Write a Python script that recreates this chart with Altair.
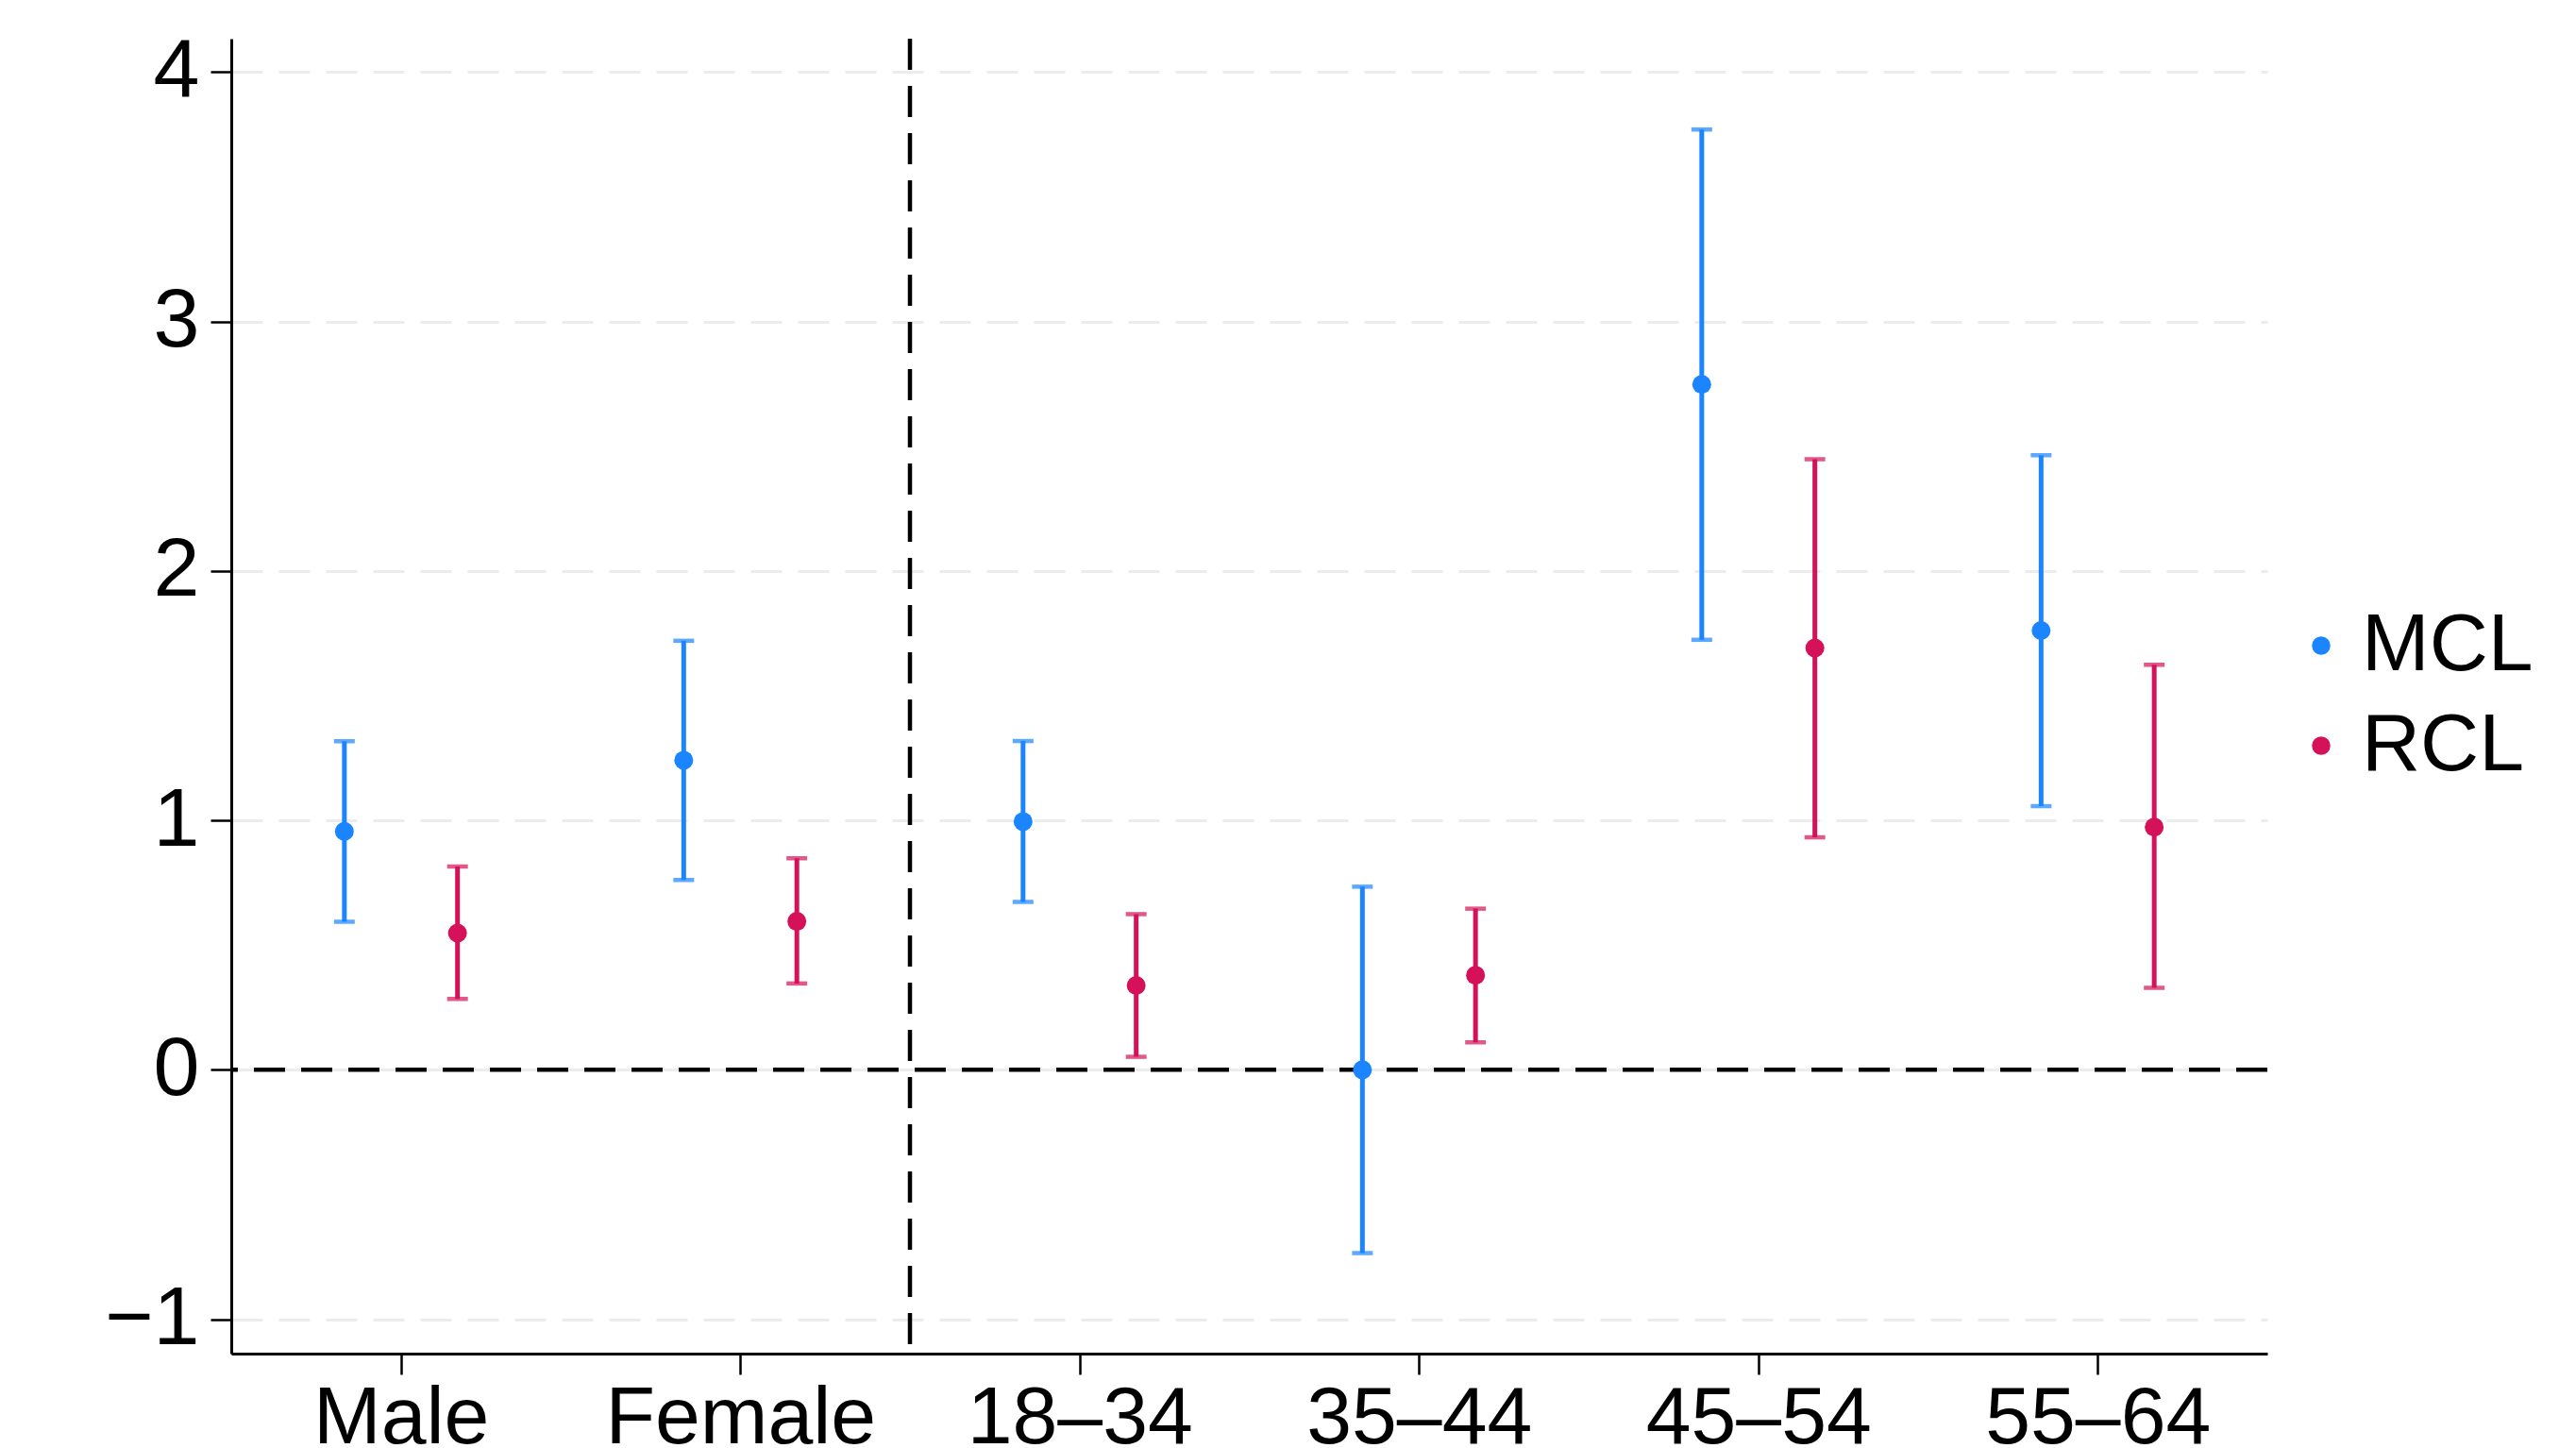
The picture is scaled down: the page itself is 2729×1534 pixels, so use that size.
import altair as alt
import pandas as pd

categories = ["Male", "Female", "18–34", "35–44", "45–54", "55–64"]
series = ["MCL", "RCL"]
mcl_est = [0.956, 1.241, 0.995, 0.000, 2.748, 1.761]
mcl_lo = [0.593, 0.761, 0.673, -0.735, 1.724, 1.057]
mcl_hi = [1.317, 1.720, 1.318, 0.734, 3.770, 2.464]
rcl_est = [0.548, 0.595, 0.338, 0.379, 1.691, 0.973]
rcl_lo = [0.284, 0.346, 0.052, 0.110, 0.932, 0.329]
rcl_hi = [0.815, 0.848, 0.624, 0.646, 2.448, 1.624]
colors = ["#1a85ff", "#d41159"]

rows = []
for i, c in enumerate(categories):
    rows.append(dict(cat=c, series="MCL", pos=i - 1 / 6, est=mcl_est[i], lo=mcl_lo[i], hi=mcl_hi[i]))
    rows.append(dict(cat=c, series="RCL", pos=i + 1 / 6, est=rcl_est[i], lo=rcl_lo[i], hi=rcl_hi[i]))
df = pd.DataFrame(rows)

FONT = "Liberation Sans"
label_expr = "[" + ",".join("'" + c + "'" for c in categories) + "][datum.value]"

xscale = alt.Scale(domain=[-0.5, 5.5], nice=False, zero=False)
yscale = alt.Scale(domain=[-1.138, 4.134], nice=False, zero=False)
cscale = alt.Scale(domain=series, range=colors)

x_axis = alt.Axis(values=list(range(len(categories))), labelExpr=label_expr, grid=False,
                  title=None, labelFontSize=86, labelPadding=4, labelLimit=1000)
y_axis = alt.Axis(values=[-1, 0, 1, 2, 3, 4], grid=True, gridDash=[33, 17], gridColor="#ececec",
                  gridWidth=3, title=None, labelFontSize=88, labelPadding=12, format="d",
                  labelLimit=1000)

legend = alt.Legend(
    title=None, orient="none", legendX=2171, legendY=600, symbolType="circle",
    symbolSize=380, symbolOpacity=1, labelFontSize=86, labelFont=FONT, rowPadding=20,
    labelOffset=0, padding=0, symbolStrokeWidth=0, labelLimit=1000, labelColor="black")
color = alt.Color("series:N", scale=cscale, legend=legend)

base = alt.Chart(df)

zero_line = alt.Chart(pd.DataFrame({"y": [0]})).mark_rule(
    color="black", strokeWidth=4.5, strokeDash=[33, 17]
).encode(y=alt.Y("y:Q", scale=yscale, axis=y_axis))

sep_line = alt.Chart(pd.DataFrame({"x": [1.5]})).mark_rule(
    color="black", strokeWidth=4.5, strokeDash=[33, 17]
).encode(x=alt.X("x:Q", scale=xscale, axis=x_axis))

bars = base.mark_rule(strokeWidth=5).encode(
    x=alt.X("pos:Q", scale=xscale, axis=x_axis),
    y=alt.Y("lo:Q", scale=yscale, axis=y_axis),
    y2="hi:Q",
    color=color,
)

caps = base.transform_fold(["lo", "hi"], as_=["end", "val"]).mark_tick(
    orient="horizontal", size=22, thickness=4.5
).encode(
    x=alt.X("pos:Q", scale=xscale, axis=x_axis),
    y=alt.Y("val:Q", scale=yscale, axis=y_axis),
    color=color,
)

points = base.mark_circle(size=400, opacity=1).encode(
    x=alt.X("pos:Q", scale=xscale, axis=x_axis),
    y=alt.Y("est:Q", scale=yscale, axis=y_axis),
    color=color,
)

chart = alt.layer(zero_line, sep_line, bars, caps, points).properties(
    width=2157, height=1393, autosize="none",
    padding={"left": 237, "top": 33, "right": 310, "bottom": 100},
).configure(background="white").configure_view(stroke=None).configure_axis(
    domainColor="black", domainWidth=3, tickColor="black", tickWidth=2.5, tickSize=22,
    labelFont=FONT, labelColor="black",
)

chart.save("out.html", embed_options={"renderer": "svg", "actions": False})
